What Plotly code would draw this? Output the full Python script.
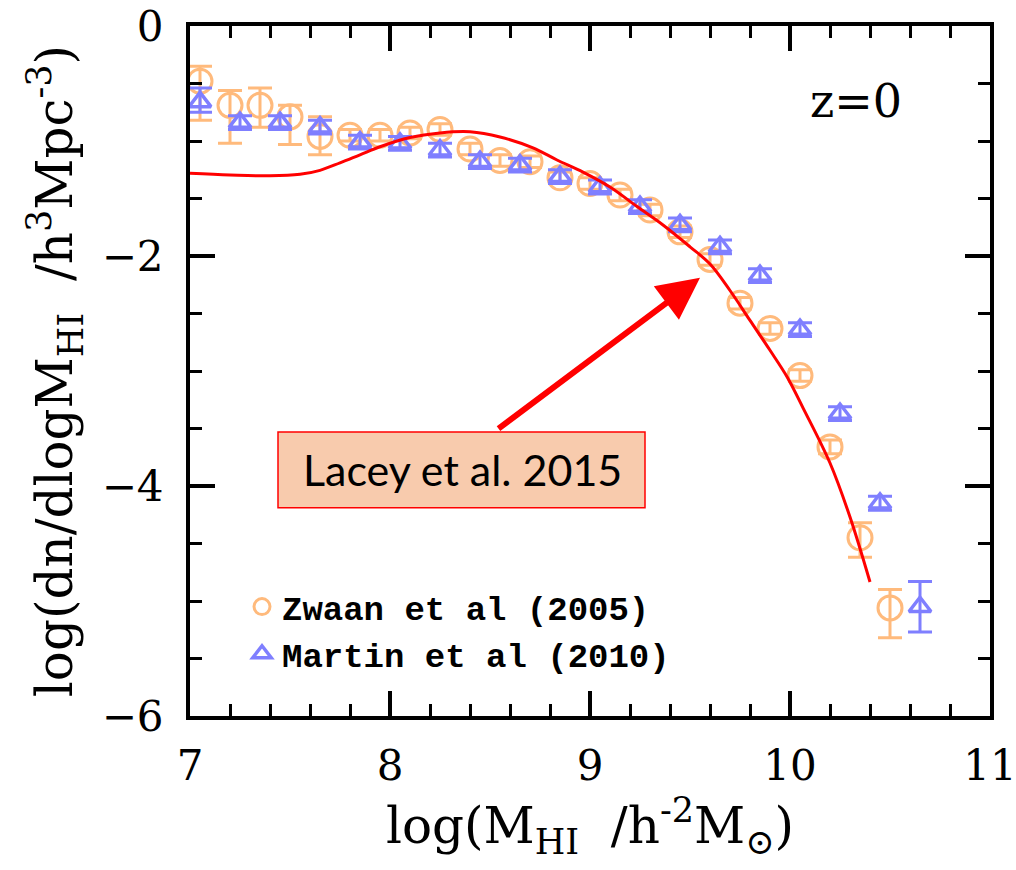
import plotly.graph_objects as go

# ---- data ----
zwaan_x = [7.05, 7.20, 7.35, 7.50, 7.65, 7.80, 7.95, 8.10, 8.25, 8.40, 8.55, 8.70,
           8.85, 9.00, 9.15, 9.30, 9.45, 9.60, 9.75, 9.90, 10.05, 10.20, 10.35, 10.50]
zwaan_y = [-0.48, -0.69, -0.69, -0.79, -0.96, -0.95, -0.95, -0.93, -0.90, -1.07, -1.17, -1.18,
           -1.32, -1.37, -1.47, -1.60, -1.79, -2.03, -2.41, -2.63, -3.04, -3.66, -4.45, -5.06]
zwaan_err_up = [0.13, 0.13, 0.15, 0.10, 0.17, 0.05, 0.05, 0.05, 0.05, 0.05, 0.05, 0.05,
                0.05, 0.05, 0.05, 0.05, 0.05, 0.05, 0.05, 0.05, 0.05, 0.06, 0.13, 0.16]
zwaan_err_dn = [0.34, 0.33, 0.19, 0.24, 0.16, 0.05, 0.05, 0.05, 0.05, 0.05, 0.05, 0.05,
                0.05, 0.05, 0.05, 0.05, 0.05, 0.05, 0.05, 0.05, 0.05, 0.06, 0.17, 0.26]

martin_x = [7.05, 7.25, 7.45, 7.65, 7.85, 8.05, 8.25, 8.45, 8.65, 8.85,
            9.05, 9.25, 9.45, 9.65, 9.85, 10.05, 10.25, 10.45, 10.65]
martin_y = [-0.66, -0.84, -0.84, -0.88, -1.01, -1.02, -1.08, -1.18, -1.21, -1.31,
            -1.40, -1.57, -1.73, -1.92, -2.17, -2.64, -3.37, -4.15, -5.05]
martin_err_up = [0.12, 0.06, 0.06, 0.06, 0.06, 0.06, 0.06, 0.06, 0.06, 0.06,
                 0.06, 0.06, 0.06, 0.06, 0.06, 0.06, 0.06, 0.06, 0.22]
martin_err_dn = [0.09, 0.06, 0.06, 0.06, 0.06, 0.06, 0.06, 0.06, 0.06, 0.06,
                 0.06, 0.06, 0.06, 0.06, 0.06, 0.06, 0.06, 0.06, 0.22]

lacey_x = [7.00, 7.20, 7.40, 7.55, 7.65, 7.75, 7.85, 7.95, 8.10, 8.25, 8.40, 8.55, 8.715,
           8.835, 8.965, 9.10, 9.235, 9.365, 9.50, 9.60, 9.70, 9.80, 9.90, 9.985, 10.065,
           10.20, 10.30, 10.40]
lacey_y = [-1.28, -1.295, -1.303, -1.29, -1.255, -1.19, -1.12, -1.05, -0.97, -0.93, -0.92,
           -0.965, -1.06, -1.165, -1.27, -1.40, -1.57, -1.73, -1.92, -2.07, -2.30, -2.56,
           -2.82, -3.05, -3.32, -3.80, -4.27, -4.835]

x_tickvals = [7, 8, 9, 10, 11]
y_tickvals = [0, -2, -4, -6]

ORANGE = "#FFBA7C"
BLUE = "#7F7FFF"
SERIF = "DejaVu Serif"

fig = go.Figure()

fig.add_trace(go.Scatter(
    x=zwaan_x, y=zwaan_y, mode="markers", name="Zwaan et al (2005)",
    marker=dict(symbol="circle-open", size=24, color=ORANGE, line=dict(width=3, color=ORANGE)),
    error_y=dict(type="data", symmetric=False, array=zwaan_err_up, arrayminus=zwaan_err_dn,
                 color=ORANGE, thickness=3, width=12),
))
fig.add_trace(go.Scatter(
    x=martin_x, y=martin_y, mode="markers", name="Martin et al (2010)",
    marker=dict(symbol="triangle-up-open", size=19, color=BLUE, line=dict(width=3.5, color=BLUE)),
    error_y=dict(type="data", symmetric=False, array=martin_err_up, arrayminus=martin_err_dn,
                 color=BLUE, thickness=3, width=12),
))
fig.add_trace(go.Scatter(
    x=lacey_x, y=lacey_y, mode="lines", showlegend=False,
    line=dict(color="#FF0000", width=3, shape="spline", smoothing=1.0),
))

axis_common = dict(
    showline=True, linewidth=4, linecolor="black", mirror="ticks",
    ticks="inside", ticklen=25, tickwidth=3.5, tickcolor="black",
    showgrid=False, zeroline=False, ticklabeloverflow="allow", automargin=False,
    tickfont=dict(family=SERIF, size=42, color="black"),
)

fig.update_xaxes(
    range=[7, 11], tickvals=x_tickvals, ticktext=[str(v) for v in x_tickvals],
    minor=dict(dtick=0.2, tick0=7, ticks="inside", ticklen=12, tickwidth=3, tickcolor="black"),
    title=dict(text="log(M<sub>HI</sub>  /h<sup>-2</sup>M<sub>⊙</sub>)",
               font=dict(family=SERIF, size=50, color="black"), standoff=8),
    ticklabelstandoff=10,
    **axis_common,
)
fig.update_yaxes(
    range=[-6, 0], tickvals=y_tickvals,
    minor=dict(dtick=0.5, tick0=0, ticks="inside", ticklen=12, tickwidth=3, tickcolor="black"),
    title=dict(text="log(dn/dlogM<sub>HI</sub>  /h<sup>3</sup>Mpc<sup>-3</sup>)",
               font=dict(family=SERIF, size=50, color="black"), standoff=14),
    ticklabelstandoff=14,
    **axis_common,
)

# annotation box + arrow
fig.add_shape(type="rect", xref="x", yref="y", x0=7.44, x1=9.275, y0=-3.53, y1=-4.19,
              fillcolor="#F8CBAD", line=dict(color="#FF0000", width=1.5), layer="above")
fig.add_annotation(x=8.36, y=-3.86, xref="x", yref="y", text="Lacey et al. 2015",
                   showarrow=False, font=dict(family="Lato", size=43, color="black"))
fig.add_annotation(x=9.55, y=-2.19, xref="x", yref="y", ax=8.535, ay=-3.51,
                   axref="x", ayref="y", text="", showarrow=True,
                   arrowcolor="#FF0000", arrowwidth=6, arrowhead=2, arrowsize=1.4, standoff=0)
fig.add_annotation(x=0.832, y=0.892, xref="paper", yref="paper", text="z=0", showarrow=False,
                   xanchor="center", yanchor="middle",
                   font=dict(family=SERIF, size=46, color="black"))

fig.update_layout(
    width=1016, height=870,
    margin=dict(l=190, r=26, t=26, b=154),
    paper_bgcolor="white", plot_bgcolor="white",
    legend=dict(x=0.065, y=0.2, xanchor="left", yanchor="top",
                font=dict(family="Liberation Mono", size=34, color="black", weight="bold"),
                bgcolor="rgba(0,0,0,0)", itemwidth=30, tracegroupgap=0),
)

fig.write_html("out.html")
